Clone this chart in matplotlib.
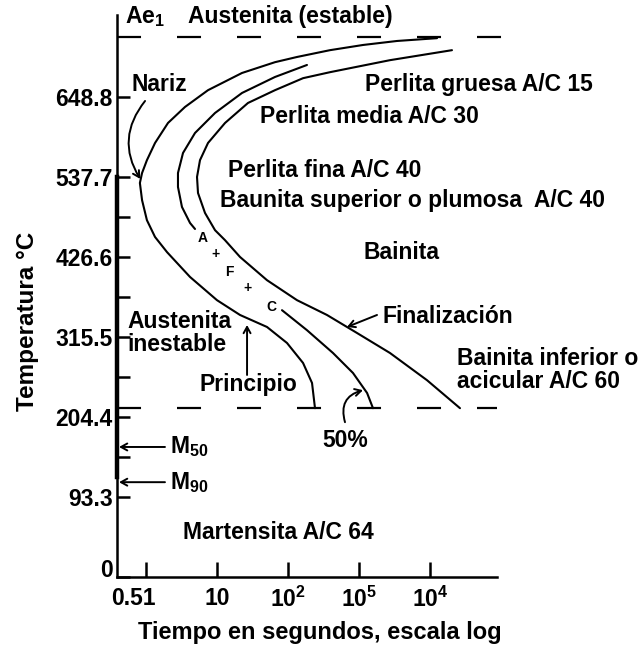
import matplotlib
matplotlib.use("Agg")
import matplotlib.pyplot as plt
import matplotlib.transforms as mtransforms

plt.rcParams['font.family'] = ['Liberation Sans', 'DejaVu Sans']
plt.rcParams['font.weight'] = 'bold'
plt.rcParams['mathtext.fontset'] = 'custom'
plt.rcParams['mathtext.rm'] = 'Liberation Sans:bold'
plt.rcParams['mathtext.it'] = 'Liberation Sans:bold:italic'
plt.rcParams['mathtext.bf'] = 'Liberation Sans:bold'

# temperature is handled in °F, the axis is labelled in °C
temp_ticks = [0, 200, 400, 600, 800, 1000, 1200]
temp_labels = ["0", "93.3", "204.4", "315.5", "426.6", "537.7", "648.8"]
temp_minor = [300, 500, 700, 900]
time_ticks = [1, 10, 100, 1000, 10000]
time_labels = ["0.51", "10", "$10^{2}$", "$10^{5}$", "$10^{4}$"]

ae1_temp = 1350
ms_temp = 422
m50_temp = 325
m90_temp = 237

# start of transformation (Principio)
start_t = [12560, 3430, 1140, 390, 134, 65.6, 22.5, 7.47, 3.54, 2.04, 1.34,
           1.03, 0.88, 0.82, 0.88, 1.03, 1.34, 1.98, 4.17, 10.0, 21.1, 50.6,
           96.8, 163, 218, 240]
start_T = [1347, 1340, 1330, 1317, 1300, 1287, 1260, 1217, 1175, 1135, 1085,
           1042, 1010, 985, 942, 892, 850, 812, 750, 692, 655, 625,
           585, 535, 485, 422]

# 50 % transformed, broken where the A + F + C label sits
half_upper_t = [185, 65.6, 22.5, 9.38, 4.90, 3.32, 2.82, 2.82, 3.21, 4.17, 4.90]
half_upper_T = [1280, 1250, 1210, 1160, 1110, 1060, 1010, 975, 925, 885, 870]
half_lower_t = [82.3, 185, 430, 823, 1300, 1574]
half_lower_T = [667, 617, 560, 510, 460, 422]

# end of transformation (Finalización)
end_t = [20400, 2730, 391, 163, 65.6, 27.3, 12.97, 7.47, 5.76, 5.23, 5.40,
         6.78, 9.38, 12.97, 21.1, 50.6, 134, 354, 937, 2730, 9070, 26450]
end_T = [1317, 1292, 1262, 1247, 1217, 1185, 1135, 1085, 1042, 1000, 960,
         910, 867, 842, 800, 742, 692, 655, 610, 560, 492, 422]

fig = plt.figure(figsize=(6.42, 6.51), dpi=100)
ax = fig.add_axes([0.1822, 0.1137, 0.690, 0.8633])
ax.set_xscale('log')
xmin, xmax = 0.39, 6.77e5
ax.set_xlim(xmin, xmax)
ax.set_ylim(0, 1405)

lw = 1.5
curve = dict(color='k', lw=lw, solid_joinstyle='round', solid_capstyle='round')
ax.plot(start_t, start_T, **curve)
ax.plot(half_upper_t, half_upper_T, **curve)
ax.plot(half_lower_t, half_lower_T, **curve)
ax.plot(end_t, end_T, **curve)

dash_lw = 1.6
dash = (0, (17.3 / dash_lw, 25.9 / dash_lw))
ax.plot([xmin, 3.2e5], [ae1_temp, ae1_temp], color='k', lw=dash_lw, ls=dash, clip_on=False)
ax.plot([xmin, 8.8e4], [ms_temp, ms_temp], color='k', lw=dash_lw, ls=dash)

# axes
for s in ['top', 'right']:
    ax.spines[s].set_visible(False)
ax.spines['left'].set_linewidth(1.8)
ax.spines['bottom'].set_linewidth(1.8)
ax.spines['bottom'].set_bounds(xmin, 8.8e4)
ax.plot([xmin, xmin], [250, 1000], color='k', lw=3.2, clip_on=False)

ax.set_yticks(temp_ticks, temp_labels)
ax.set_yticks(temp_minor, minor=True)
ax.set_xticks(time_ticks, time_labels)
ax.xaxis.set_minor_locator(plt.NullLocator())
ax.tick_params(axis='y', which='both', direction='in', length=9.5, width=1.8,
               labelsize=16.5, pad=3)
ax.tick_params(axis='x', which='major', direction='in', length=10.5, width=1.8,
               labelsize=16.5, pad=7)

ylab0 = ax.yaxis.get_major_ticks()[0].label1
ylab0.set_transform(ylab0.get_transform() +
                    mtransforms.ScaledTranslation(0, 0.09, fig.dpi_scale_trans))
xlab0 = ax.xaxis.get_major_ticks()[0].label1
xlab0.set_transform(xlab0.get_transform() +
                    mtransforms.ScaledTranslation(-0.13, 0, fig.dpi_scale_trans))

fig.text(28 / 642, 1 - 321 / 651, "Temperatura °C", rotation=90,
         ha='center', va='center', fontsize=17.5)
fig.text(320 / 642, 1 - 633 / 651, "Tiempo en segundos, escala log",
         ha='center', va='center', fontsize=17)

fs = 16.5
txt = dict(fontsize=fs, va='center', ha='left')
ax.text(0.506, 1400, "Ae$_1$", **txt)
ax.text(3.90, 1400, "Austenita (estable)", **txt)
ax.text(0.615, 1230, "Nariz", **txt)
ax.text(1216, 1230, "Perlita gruesa A/C 15", **txt)
ax.text(40.3, 1150, "Perlita media A/C 30", **txt)
ax.text(14.3, 1017, "Perlita fina A/C 40", **txt)
ax.text(11.0, 942, "Baunita superior o plumosa  A/C 40", **txt)
ax.text(4034, 810, "Bainita", fontsize=fs, va='center', ha='center')
ax.text(2178, 650, "Finalización", **txt)
ax.text(0.54, 610, "Austenita\ninestable", linespacing=1.0, **txt)
ax.text(24000, 517, "Bainita inferior o\nacicular A/C 60", linespacing=1.0, **txt)
ax.text(5.76, 480, "Principio", **txt)
ax.text(301, 342, "50%", **txt)
ax.text(2.18, m50_temp, "M$_{50}$", **txt)
ax.text(2.18, m90_temp, "M$_{90}$", **txt)
ax.text(3.32, 110, "Martensita A/C 64", **txt)

small = dict(fontsize=10, ha='center', va='center')
ax.text(6.35, 847, "A", **small)
ax.text(9.68, 807, "+", **small)
ax.text(14.8, 762, "F", **small)
ax.text(26.5, 722, "+", **small)
ax.text(57.6, 675, "C", **small)

arrow = dict(arrowstyle="->,head_length=0.45,head_width=0.25", color='k', lw=1.4,
             shrinkA=0, shrinkB=0)
ax.annotate("", xy=(0.83, 995), xytext=(0.97, 1190),
            arrowprops=dict(connectionstyle="arc3,rad=0.35", **arrow))
ax.annotate("", xy=(26.5, 630), xytext=(26.5, 505), arrowprops=arrow)
ax.annotate("", xy=(678, 625), xytext=(1794, 655), arrowprops=arrow)
ax.annotate("", xy=(1138, 467), xytext=(635, 387),
            arrowprops=dict(connectionstyle="arc3,rad=-0.5", **arrow))
ax.annotate("", xy=(0.417, m50_temp), xytext=(1.85, m50_temp), arrowprops=arrow)
ax.annotate("", xy=(0.417, m90_temp), xytext=(1.85, m90_temp), arrowprops=arrow)

fig.savefig("out.png", dpi=100)
